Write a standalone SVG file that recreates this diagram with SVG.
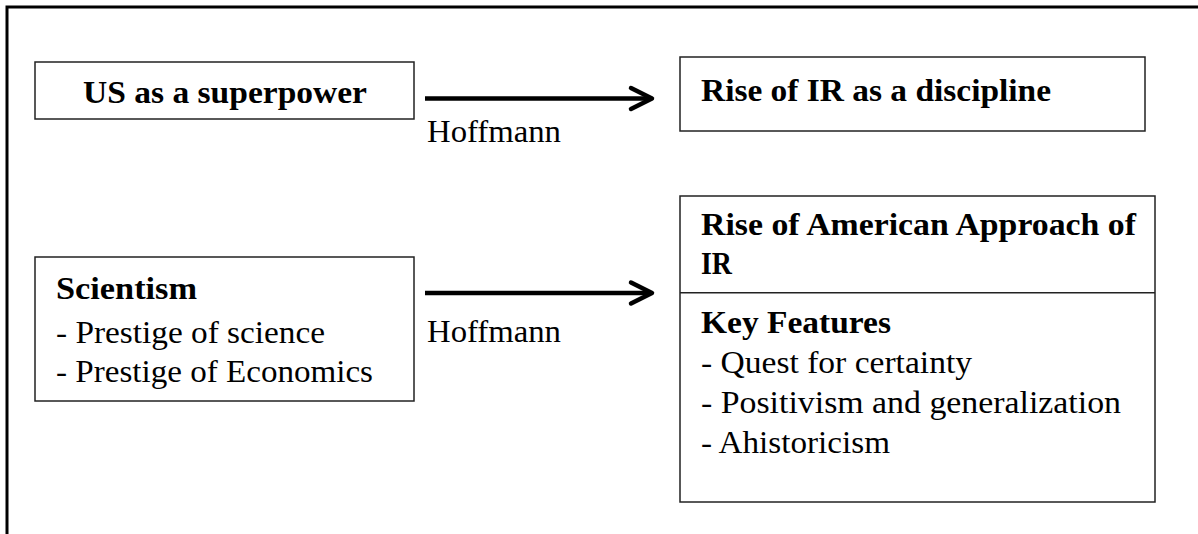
<svg xmlns="http://www.w3.org/2000/svg" width="1198" height="534" viewBox="0 0 1198 534">
  <defs>
    <style>
      .box { fill: #ffffff; stroke: #222222; stroke-width: 1.5; }
      .t { font-family: "Liberation Serif", "Times New Roman", serif; font-size: 31px; fill: #000000; }
      .b { font-weight: bold; }
      .conn { stroke: #000000; stroke-width: 4.5; fill: none; }
      .head { stroke: #000000; stroke-width: 4.5; fill: none; stroke-linecap: round; stroke-linejoin: round; }
      .frame { stroke: #000000; stroke-width: 3; fill: none; }
    </style>
  </defs>
  <rect x="0" y="0" width="1198" height="534" fill="#ffffff"/>
  <g id="frame">
    <path class="frame" d="M7,534 V7 H1198"/>
  </g>

  <g id="connectors">
    <g id="arrow-us-ir">
      <line class="conn" x1="425" y1="98.5" x2="650" y2="98.5"/>
      <polyline class="head" points="631,88 652,98.5 631,109"/>
      <text class="t" x="427" y="142" textLength="134" lengthAdjust="spacingAndGlyphs">Hoffmann</text>
    </g>
    <g id="arrow-scientism-american">
      <line class="conn" x1="425" y1="293" x2="650" y2="293"/>
      <polyline class="head" points="631,282.5 652,293 631,303.5"/>
      <text class="t" x="427" y="342" textLength="134" lengthAdjust="spacingAndGlyphs">Hoffmann</text>
    </g>
  </g>

  <g id="node-us-superpower">
    <rect class="box" x="35" y="62" width="379" height="57"/>
    <text class="t b" x="83" y="103" textLength="284" lengthAdjust="spacingAndGlyphs">US as a superpower</text>
  </g>

  <g id="node-rise-ir">
    <rect class="box" x="680" y="57" width="465" height="74"/>
    <text class="t b" x="701" y="101" textLength="350" lengthAdjust="spacingAndGlyphs">Rise of IR as a discipline</text>
  </g>

  <g id="node-scientism">
    <rect class="box" x="35" y="257" width="379" height="144"/>
    <text class="t b" x="56" y="299" textLength="141" lengthAdjust="spacingAndGlyphs">Scientism</text>
    <text class="t" x="56" y="343" textLength="269" lengthAdjust="spacingAndGlyphs">- Prestige of science</text>
    <text class="t" x="56" y="382" textLength="317" lengthAdjust="spacingAndGlyphs">- Prestige of Economics</text>
  </g>

  <g id="node-american-approach">
    <rect class="box" x="680" y="196" width="475" height="306"/>
    <line stroke="#222222" stroke-width="1.5" x1="680" y1="292.7" x2="1155" y2="292.7"/>
    <text class="t b" x="701" y="235" textLength="435" lengthAdjust="spacingAndGlyphs">Rise of American Approach of</text>
    <text class="t b" x="701" y="274" textLength="31" lengthAdjust="spacingAndGlyphs">IR</text>
    <text class="t b" x="701" y="333" textLength="190" lengthAdjust="spacingAndGlyphs">Key Features</text>
    <text class="t" x="701" y="373" textLength="271" lengthAdjust="spacingAndGlyphs">- Quest for certainty</text>
    <text class="t" x="701" y="413" textLength="420" lengthAdjust="spacingAndGlyphs">- Positivism and generalization</text>
    <text class="t" x="701" y="453" textLength="189" lengthAdjust="spacingAndGlyphs">- Ahistoricism</text>
  </g>
</svg>
